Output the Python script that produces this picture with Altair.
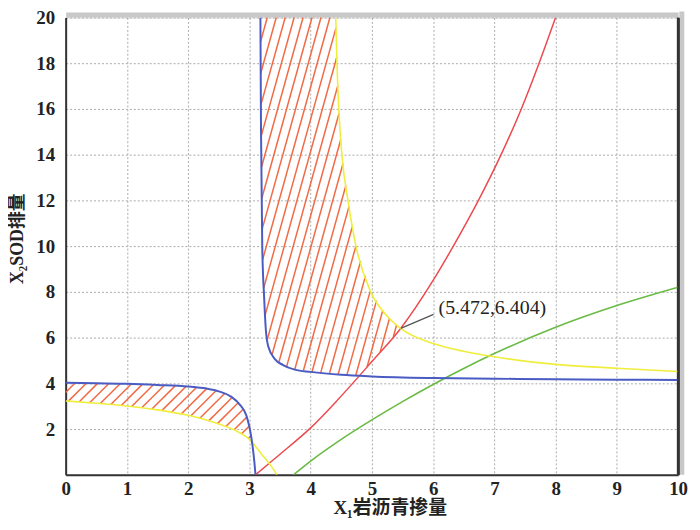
import numpy as np
import pandas as pd
import altair as alt

# ---- curve data ----
blue_l_x = [0, 0.5, 1, 1.5, 2, 2.3, 2.5, 2.7, 2.85, 2.95, 3.0, 3.05, 3.08, 3.1]
blue_l_y = [4.02, 4.0, 3.98, 3.93, 3.86, 3.77, 3.65, 3.42, 3.05, 2.6, 2.1, 1.3, 0.6, 0.0]

blue_r_x = [3.18, 3.19, 3.21, 3.24, 3.27, 3.31, 3.42, 3.55, 3.74, 4.0, 4.5, 5.0, 6.0, 7.0, 8.0, 9.0, 10.0]
blue_r_y = [20, 15, 10, 7.8, 6.3, 5.6, 5.05, 4.8, 4.6, 4.5, 4.37, 4.3, 4.23, 4.2, 4.18, 4.16, 4.15]

yellow_l_x = [0, 0.5, 1, 1.5, 2, 2.5, 2.8, 3.0, 3.2, 3.35, 3.45]
yellow_l_y = [3.23, 3.13, 3.01, 2.84, 2.6, 2.22, 1.9, 1.55, 0.9, 0.4, 0.0]

yellow_r_x = [4.41, 4.43, 4.46, 4.51, 4.61, 4.74, 4.98, 5.23, 5.47, 6.0, 6.5, 7.0, 8.0, 9.0, 10.0]
yellow_r_y = [20, 18, 16, 14, 12, 10, 8, 7, 6.4, 5.74, 5.4, 5.16, 4.83, 4.66, 4.52]

red_x = [3.1, 3.5, 4.0, 4.45, 5.0, 5.47, 6.0, 6.33, 6.74, 7.11, 7.44, 7.73, 8.0]
red_y = [0, 0.9, 2.05, 3.3, 4.95, 6.4, 8.5, 10, 12, 14, 16, 18, 20]

green_x = [3.72, 4.0, 4.5, 5.0, 5.5, 6.0, 6.5, 7.0, 8.0, 9.0, 10.0]
green_y = [0, 0.6, 1.55, 2.4, 3.2, 3.95, 4.65, 5.3, 6.45, 7.4, 8.2]

ann_x = [5.472]
ann_y = [6.404]
ann_text = ["(5.472,6.404)"]

x_ticks = [0, 1, 2, 3, 4, 5, 6, 7, 8, 9, 10]
y_ticks = [2, 4, 6, 8, 10, 12, 14, 16, 18, 20]
x_domain = [0, 10]
y_domain = [0, 20]

W, H = 616, 460
SX, SY = W / 10.0, H / 20.0


def curve(xs, ys):
    return pd.DataFrame({"x": xs, "y": ys, "o": list(range(len(xs)))})


# ---- hatch segments clipped to the regions bounded by the curves ----
def inside_upper(x, y):
    return ((x >= blue_r_x[0]) & (y <= 20)
            & (y >= np.interp(x, blue_r_x, blue_r_y))
            & (y <= np.interp(x, yellow_r_x, yellow_r_y, left=99))
            & (y >= np.interp(x, red_x, red_y, left=-99)))


def inside_lower(x, y):
    return ((x >= 0) & (x <= blue_l_x[-1])
            & (y <= np.interp(x, blue_l_x, blue_l_y))
            & (y >= np.interp(x, yellow_l_x, yellow_l_y)))


def hatch(inside, slope_px, spacing_px, xlo, xhi, ylo, yhi, phase=0.0):
    k = slope_px * SX / SY
    step = spacing_px / SX
    ys = np.linspace(ylo, yhi, 3001)
    rows = []
    c = xlo - yhi / k + phase
    while c <= xhi - ylo / k:
        xs = c + ys / k
        m = inside(xs, ys)
        n = len(ys)
        i = 0
        while i < n:
            if m[i]:
                j = i
                while j + 1 < n and m[j + 1]:
                    j += 1
                if j > i:
                    rows.append({"x": xs[i], "y": ys[i], "x2": xs[j], "y2": ys[j],
                                 "c": "#f26a44", "w": 1.5})
                i = j + 1
            else:
                i += 1
        c += step
    return pd.DataFrame(rows)


hatch_up = hatch(inside_upper, 3.6, 9.0, 3.0, 6.5, 4.0, 20.0)
hatch_lo = hatch(inside_lower, 1.0, 11.5, -0.2, 3.2, 0.0, 4.2, phase=0.05)

# right frame edge of the plot box (light grey band outside, dark edge line)
xr = x_domain[1]
frame_rows = pd.DataFrame([
    {"x": xr + 3.75 / SX, "y": y_domain[0], "x2": xr + 3.75 / SX, "y2": y_domain[1] + 6 / SY,
     "c": "#c8c8c8", "w": 5.0},
    {"x": xr, "y": y_domain[0], "x2": xr, "y2": y_domain[1], "c": "#333333", "w": 2.5},
])
hatch_df = pd.concat([hatch_up, hatch_lo, frame_rows], ignore_index=True)

FONT = "Liberation Serif, 'Noto Sans CJK SC'"
xs = alt.Scale(domain=x_domain, nice=False, zero=False)
ys = alt.Scale(domain=y_domain, nice=False, zero=False)

x_axis = alt.Axis(orient="bottom", values=x_ticks, grid=True, gridDash=[2, 2], gridColor="#aaaaaa",
                  gridWidth=1, ticks=False, domainColor="#333333", domainWidth=2,
                  labelFont=FONT, labelFontWeight="bold", labelFontSize=19, labelColor="#222222",
                  labelPadding=5, labelFlush=False,
                  title="X₁岩沥青掺量", titleFont=FONT, titleFontWeight="bold", titleFontSize=19,
                  titleColor="#222222", titleX=326, titleY=33, titleBaseline="middle", titleAlign="center")
y_axis = alt.Axis(orient="left", values=y_ticks, grid=True, gridDash=[2, 2], gridColor="#aaaaaa",
                  gridWidth=1, ticks=False, domainColor="#333333", domainWidth=2,
                  labelFont=FONT, labelFontWeight="bold", labelFontSize=19, labelColor="#222222",
                  labelPadding=11, labelFlush=False,
                  title="X₂SOD排量", titleFont=FONT, titleFontWeight="bold", titleFontSize=18,
                  titleColor="#222222", titleX=-48, titleY=222, titleAngle=-90,
                  titleBaseline="middle", titleAlign="center")
x_top = alt.Axis(orient="top", labels=False, ticks=False, grid=False, domainColor="#c8c8c8",
                 domainWidth=5, offset=3, title=None)
y_right = alt.Axis(orient="right", labels=False, ticks=False, grid=False, domainColor="#333333",
                   domainWidth=2.5, title=None, zindex=2)


def line(df, color, width, xaxis=None):
    return alt.Chart(df).mark_line(color=color, strokeWidth=width, clip=True,
                                   interpolate="monotone").encode(
        x=alt.X("x:Q", scale=xs, axis=xaxis),
        y=alt.Y("y:Q", scale=ys, axis=None),
        order="o:Q",
    )


hatch_layer = alt.Chart(hatch_df).mark_rule().encode(
    x=alt.X("x:Q", scale=xs, axis=x_axis),
    y=alt.Y("y:Q", scale=ys, axis=y_axis),
    x2="x2:Q",
    y2="y2:Q",
    color=alt.Color("c:N", scale=None),
    strokeWidth=alt.StrokeWidth("w:Q", scale=None),
)

l_red = line(curve(red_x, red_y), "#ec4a4f", 1.5)
l_green = line(curve(green_x, green_y), "#6abb45", 1.6)
l_yl = line(curve(yellow_l_x, yellow_l_y), "#f0ee3c", 1.6)
l_yr = line(curve(yellow_r_x, yellow_r_y), "#f0ee3c", 1.6)
l_bl = line(curve(blue_l_x, blue_l_y), "#4a5cc4", 2.0)
l_br = line(curve(blue_r_x, blue_r_y), "#4a5cc4", 2.0, xaxis=x_top)

ann_df = pd.DataFrame({"x": ann_x, "y": ann_y, "t": ann_text})
ann_df["xe"] = ann_df["x"] + 33 / SX
ann_df["ye"] = ann_df["y"] + 14 / SY
leader = alt.Chart(ann_df).mark_rule(color="#555555", strokeWidth=1.3).encode(
    x=alt.X("x:Q", scale=xs, axis=None), y=alt.Y("y:Q", scale=ys, axis=y_right),
    x2="xe:Q", y2="ye:Q")
label = alt.Chart(ann_df).mark_text(font=FONT, fontSize=20, color="#222222", align="left",
                                    baseline="middle", dx=38, dy=-20).encode(
    x=alt.X("x:Q", scale=xs, axis=None), y=alt.Y("y:Q", scale=ys, axis=None), text="t:N")

chart = alt.layer(hatch_layer, l_red, l_green, l_yl, l_yr, l_bl, l_br, leader, label).properties(
    width=W, height=H,
    padding={"left": 58, "top": 8, "right": 14, "bottom": 50},
    autosize=alt.AutoSizeParams(type="none"),
).configure_view(stroke=None).configure(background="white")

chart.save("out.html", embed_options={"renderer": "svg", "actions": False})
